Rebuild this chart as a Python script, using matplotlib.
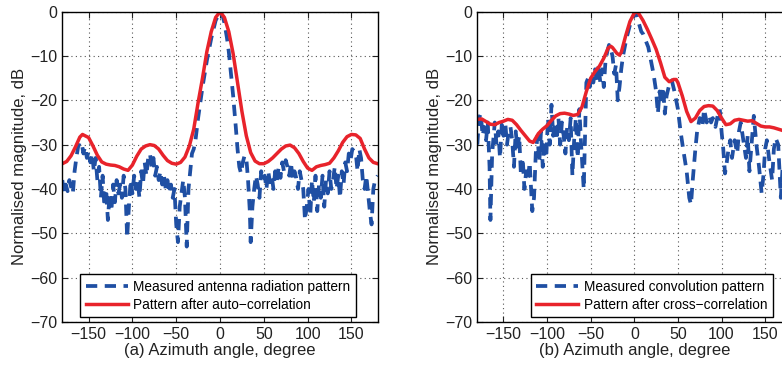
import numpy as np
from matplotlib import pyplot as plt

plt.rcParams['font.family'] = ['Liberation Sans', 'DejaVu Sans']

# (a) measured antenna radiation pattern, (azimuth deg, dB)
antenna_pts = [
    (-180, -38), (-178, -41), (-176, -39), (-174, -40.5), (-172, -38), (-170, -39.5),
    (-168, -41), (-166, -36), (-164, -33), (-162, -30.5), (-160, -29.5), (-158, -29.5),
    (-156, -32), (-154, -30.5), (-152, -33), (-150, -31.5), (-148, -34), (-146, -32),
    (-144, -36), (-142, -33), (-140, -38), (-138, -35), (-136, -42), (-134, -37),
    (-132, -44), (-130, -40), (-128, -47), (-126, -41), (-124, -45), (-122, -39),
    (-120, -43), (-118, -38), (-116, -41), (-114, -39), (-112, -42), (-110, -37),
    (-108, -40), (-106, -51), (-104, -44), (-102, -38), (-100, -41), (-98, -37),
    (-96, -40), (-94, -38), (-92, -42), (-90, -36), (-88, -39), (-86, -34), (-84, -37),
    (-82, -33), (-80, -32), (-78, -35), (-76, -33), (-74, -37), (-72, -35), (-70, -38),
    (-68, -36), (-66, -39), (-64, -37), (-62, -40), (-60, -38), (-58, -41), (-56, -39),
    (-54, -42), (-52, -40), (-50, -48), (-48, -52), (-46, -44), (-44, -41), (-42, -38),
    (-40, -42), (-38, -53), (-36, -40), (-34, -36), (-32, -32), (-30, -31), (-28, -29),
    (-25, -24), (-20, -17), (-15, -11), (-10, -6), (-5, -2), (0, 0), (3, -1), (5, -2.5),
    (8, -6), (10, -9), (12, -13), (15, -19), (18, -26), (20, -31), (22, -35), (24, -36.5),
    (26, -34), (28, -32.5), (30, -33), (32, -38), (34, -45), (35, -52), (37, -44),
    (39, -40), (41, -37), (43, -39), (45, -42), (47, -36), (49, -38), (51, -37), (53, -40),
    (55, -36), (57, -38.5), (59, -37), (61, -40), (63, -36), (65, -38), (67, -35),
    (69, -37.5), (71, -34), (73, -36), (75, -33.5), (77, -35), (79, -37), (81, -34),
    (83, -38), (85, -36), (87, -37.5), (89, -40), (91, -36), (93, -38), (95, -40),
    (97, -47), (99, -44), (101, -40), (103, -46), (105, -38), (107, -43), (109, -37),
    (111, -45), (113, -39), (115, -42), (117, -37), (119, -44), (121, -38), (123, -41),
    (125, -36), (127, -40), (129, -38), (131, -35), (133, -40), (135, -37), (137, -42),
    (139, -36), (141, -39), (143, -34), (145, -36), (147, -32), (149, -33.5), (151, -31),
    (153, -31.5), (155, -32), (157, -36), (159, -31), (161, -33), (163, -38), (165, -40),
    (167, -37), (169, -41), (171, -45), (173, -48), (175, -40), (177, -38), (180, -37),
]

# (a) pattern after auto-correlation
auto_deg = [-180, -175, -170, -165, -160, -157, -150, -145, -140, -135, -130, -125, -120,
            -115, -110, -105, -100, -95, -90, -85, -80, -75, -70, -65, -60, -55, -50, -45,
            -40, -35, -30, -25, -20, -15, -10, -5, 0, 5, 10, 15, 20, 25, 30, 35, 40, 45, 50,
            55, 60, 65, 70, 75, 80, 85, 90, 95, 100, 105, 110, 115, 120, 125, 130, 135, 140,
            145, 150, 155, 160, 165, 170, 175, 180]
auto_db = [-34.3, -33.8, -32.5, -30.5, -28.3, -27.7, -28.4, -30.3, -32.4, -33.9, -34.4,
           -34.6, -34.7, -35.0, -35.5, -35.8, -34.6, -32.6, -31.0, -30.3, -30.0, -30.2,
           -31.0, -32.4, -33.6, -34.2, -34.4, -34.0, -32.8, -30.3, -26.5, -20.5, -15.0,
           -9.0, -4.5, -1.3, 0.0, -1.3, -4.5, -9.5, -16.0, -22.5, -28.0, -31.8, -33.7,
           -34.3, -34.3, -33.8, -33.0, -32.0, -31.0, -30.3, -30.1, -30.7, -32.0, -33.8,
           -35.3, -35.8, -35.0, -34.7, -34.5, -34.2, -33.0, -31.4, -29.5, -28.2, -27.7,
           -27.8, -28.6, -31.0, -33.0, -34.0, -34.3]

# (b) measured convolution pattern, (azimuth deg, dB)
convolution_pts = [
    (-180, -30), (-178, -24), (-176, -23), (-174, -28), (-172, -26), (-170, -29),
    (-168, -25), (-166, -35), (-165, -47), (-163, -32), (-160, -25), (-158, -30),
    (-156, -27), (-154, -33), (-152, -25.5), (-150, -28), (-148, -25), (-146, -30),
    (-144, -27), (-142, -26), (-140, -29), (-138, -35), (-136, -27), (-134, -31),
    (-132, -28), (-130, -37), (-128, -33), (-126, -40), (-124, -36), (-122, -38),
    (-120, -34), (-117, -45), (-115, -42), (-113, -32), (-111, -28), (-109, -34),
    (-107, -27), (-105, -35), (-103, -29), (-101, -33), (-99, -24), (-97, -30), (-95, -21),
    (-93, -28), (-91, -25), (-89, -29), (-87, -24), (-85, -30), (-83, -25), (-81, -28),
    (-79, -32), (-77, -26), (-75, -29), (-73, -24), (-71, -37), (-69, -29), (-67, -24),
    (-65, -33), (-63, -22), (-61, -30), (-58, -40), (-55, -16), (-53, -15), (-51, -17),
    (-49, -14), (-47, -16), (-45, -13), (-43, -16), (-41, -12), (-39, -16), (-37, -13),
    (-35, -17), (-33, -11), (-31, -9), (-29, -7.5), (-27, -8.5), (-25, -10), (-23, -14),
    (-21, -12), (-19, -20), (-17, -17), (-15, -13), (-13, -10), (-11, -8), (-9, -6),
    (-7, -4.5), (-5, -3), (-3, -2), (0, -0.5), (2, -0.2), (5, -2.5), (8, -4.5), (10, -5),
    (13, -6.5), (16, -8), (19, -11), (22, -14), (25, -18), (27, -23), (29, -18), (31, -21),
    (33, -17), (35, -23), (37, -19), (40, -16.5), (43, -15.5), (46, -18), (50, -22),
    (53, -27), (56, -31), (60, -36), (63, -42), (65, -43.5), (67, -38), (70, -31),
    (72, -27), (75, -24), (78, -26), (80, -22), (83, -25), (86, -23.5), (88, -25),
    (90, -24), (93, -26), (96, -23), (98, -22), (100, -27), (102, -31), (104, -36.5),
    (106, -34), (108, -31), (110, -29), (112, -33), (115, -29), (118, -32), (120, -27),
    (122, -25), (125, -29), (128, -33), (130, -28), (132, -36), (134, -31), (137, -23.5),
    (140, -30), (143, -35), (146, -41), (148, -37), (150, -31), (152, -29), (155, -34),
    (158, -38), (160, -31), (162, -28.5), (165, -30), (168, -42), (170, -35), (173, -30),
    (175, -28), (178, -26), (180, -24),
]

# (b) pattern after cross-correlation
cross_deg = [-180, -175, -170, -165, -160, -155, -150, -145, -140, -135, -130, -125, -120,
             -116, -110, -105, -100, -95, -90, -85, -80, -75, -70, -65, -60, -55, -50, -45,
             -40, -35, -30, -27, -25, -20, -17, -15, -10, -5, 0, 3, 5, 10, 15, 20, 25, 30,
             35, 40, 45, 48, 50, 55, 60, 65, 70, 75, 80, 85, 90, 95, 100, 105, 110, 115, 120,
             125, 130, 135, 140, 145, 150, 155, 160, 165, 170, 175, 180]
cross_db = [-24.3, -24.2, -24.8, -25.4, -25.5, -25.0, -24.7, -24.3, -24.5, -25.5, -26.8,
            -28.0, -29.2, -29.5, -27.5, -26.5, -25.7, -24.5, -23.5, -23.0, -22.9, -23.1,
            -23.4, -23.2, -21.5, -18.0, -15.0, -13.5, -12.3, -10.5, -8.2, -7.8, -8.1, -9.4,
            -9.8, -9.2, -5.5, -2.2, -0.3, 0.0, -0.4, -2.0, -4.0, -6.2, -8.5, -11.5, -14.8,
            -15.8, -15.3, -15.3, -16.0, -19.0, -22.5, -24.8, -24.0, -22.3, -21.4, -21.2,
            -21.3, -22.3, -24.0, -25.5, -25.3, -24.5, -24.3, -24.5, -24.7, -24.6, -25.2,
            -25.8, -26.0, -26.0, -26.2, -26.5, -26.8, -27.0, -27.0]

ant_deg, ant_db = np.array(antenna_pts).T
conv_deg, conv_db = np.array(convolution_pts).T

blue = '#1f4fa3'
red = '#e8232b'

fig = plt.figure(figsize=(7.82, 3.65), dpi=100)
ax1 = fig.add_axes([0.0797, 0.118, 0.4033, 0.850])
ax2 = fig.add_axes([0.6104, 0.118, 0.4015, 0.850])

panels = [
    (ax1, ant_deg, ant_db, auto_deg, auto_db,
     'Measured antenna radiation pattern', 'Pattern after auto\u2212correlation',
     '(a) Azimuth angle, degree', 0.931),
    (ax2, conv_deg, conv_db, cross_deg, cross_db,
     'Measured convolution pattern', 'Pattern after cross\u2212correlation',
     '(b) Azimuth angle, degree', 0.941),
]

for ax, bx, by, rx, ry, lab1, lab2, xlab, leg_x in panels:
    ax.plot(bx, by, color=blue, lw=2.7, ls=(0, (3, 2)), label=lab1)
    ax.plot(rx, ry, color=red, lw=2.5, label=lab2)
    ax.set_xlim(-180, 180)
    ax.set_ylim(-70, 0)
    ax.set_xticks([-150, -100, -50, 0, 50, 100, 150])
    ax.set_yticks(np.arange(-70, 1, 10))
    ax.grid(True, ls=(0, (1, 3)), color='#555555', lw=0.8)
    ax.tick_params(direction='in', top=True, right=True, labelsize=11.5, length=4,
                   colors='#222222')
    for s in ax.spines.values():
        s.set_linewidth(1.0)
    ax.set_xlabel(xlab, fontsize=12, labelpad=1, color='#222222')
    ax.set_ylabel('Normalised magnitude, dB', fontsize=12, labelpad=2, color='#222222')
    leg = ax.legend(loc='lower right', bbox_to_anchor=(leg_x, 0.015), fontsize=9.8,
                    fancybox=False, framealpha=1, edgecolor='black', handlelength=3.1,
                    borderpad=0.4, labelspacing=0.3, handletextpad=0.4,
                    borderaxespad=0)
    leg.get_frame().set_linewidth(1.0)

fig.savefig('out.png', dpi=100)
